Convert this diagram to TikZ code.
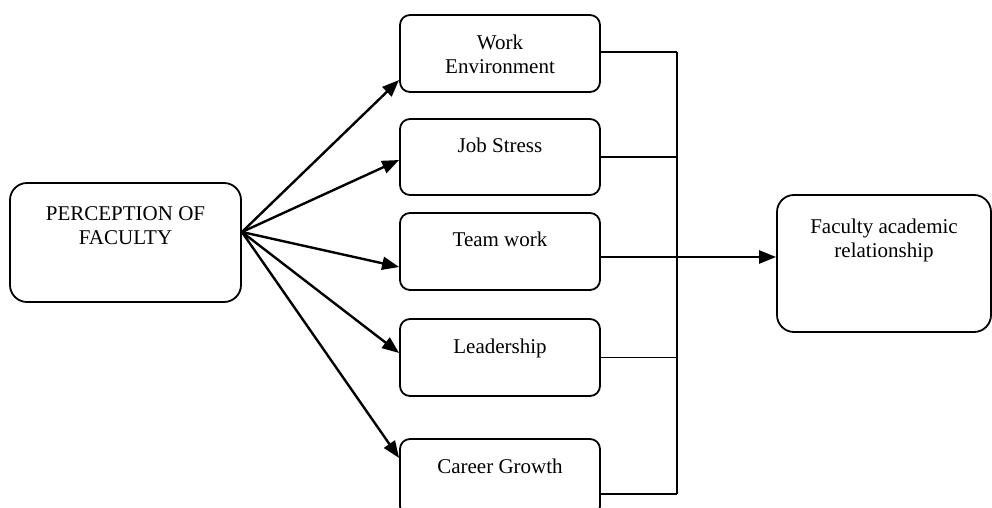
\documentclass[tikz,border=0pt]{standalone}
\usepackage{fontspec}
\setmainfont{Liberation Serif}
\usetikzlibrary{arrows.meta,calc}
\begin{document}
\begin{tikzpicture}[x=1pt,y=-1pt,
  box/.style={draw,line width=1.8pt,rounded corners=10pt,inner sep=0pt},
  bigbox/.style={box,rounded corners=17pt},
  caption/.style={font=\fontsize{21}{24}\selectfont,align=center,anchor=base,inner sep=0pt},
  link/.style={line width=1.6pt},
  flow/.style={line width=2.4pt,-{Triangle[length=17pt,width=13pt]}}]
\clip (0,0) rectangle (992,508);
\fill[white] (0,0) rectangle (992,508);

% source box
\node[bigbox,minimum width=231pt,minimum height=119pt] (perc) at (125.5,242.5) {};
\node[caption] (percT) at (125.5,244) {PERCEPTION OF\\FACULTY};

% factor boxes
\node[box,minimum width=200pt,minimum height=77pt] (we) at (500,53.5) {};
\node[caption] (weT) at (500,74) {Work\\Environment};
\node[box,minimum width=200pt,minimum height=76pt] (js) at (500,157) {};
\node[caption] (jsT) at (500,152) {Job Stress};
\node[box,minimum width=200pt,minimum height=77pt] (tw) at (500,251.5) {};
\node[caption] (twT) at (500,246) {Team work};
\node[box,minimum width=200pt,minimum height=77pt] (ld) at (500,357.5) {};
\node[caption] (ldT) at (500,353) {Leadership};
\node[box,minimum width=200pt,minimum height=77pt] (cg) at (500,477.5) {};
\node[caption] (cgT) at (500,473) {Career Growth};

% outcome box
\node[bigbox,minimum width=214pt,minimum height=137pt] (fac) at (884,263.5) {};
\node[caption] (facT) at (884,257) {Faculty academic\\relationship};

% arrows fanning out from the source box
\coordinate (src) at ([yshift=10.5pt]perc.east);
\draw[flow] (src) -- ([yshift=-26.5pt]we.west);
\draw[flow] (src) -- ([yshift=-3pt]js.west);
\draw[flow] (src) -- ([yshift=-15.5pt]tw.west);
\draw[flow] (src) -- ([yshift=4.5pt]ld.west);
\draw[flow] (src) -- ([yshift=19.5pt]cg.west);

% collecting bus on the right
\coordinate (bus) at (677,0);
\draw[link] ([yshift=1.5pt]we.east) coordinate (w1) -- (w1 -| bus) coordinate (btop);
\draw[link] (js.east) coordinate (j1) -- (j1 -| bus);
\draw[link] ([yshift=-5.5pt]tw.east) coordinate (t1) -- (t1 -| bus);
\draw[link] (ld.east) coordinate (l1) -- (l1 -| bus);
\draw[link] ([yshift=-16.5pt]cg.east) coordinate (c1) -- (c1 -| bus) coordinate (bbot);
\draw[link] (btop) -- (bbot);
\coordinate (fin) at ([yshift=6.5pt]fac.west);
\draw[flow] (fin -| bus) -- (fin);
\end{tikzpicture}
\end{document}
